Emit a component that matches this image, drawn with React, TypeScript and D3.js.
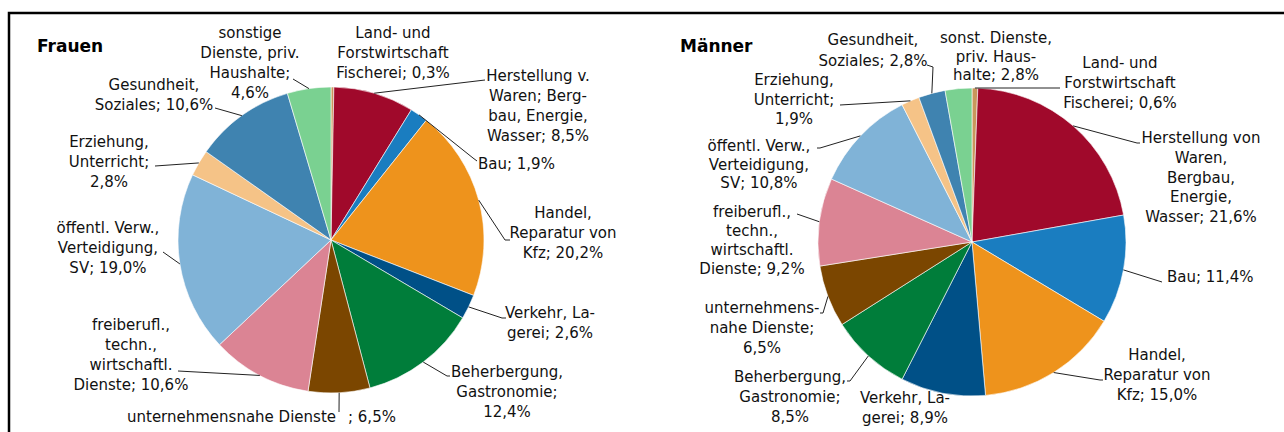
import React, { useEffect, useRef } from 'react'
import * as d3 from 'd3'

// Wirtschaftsbereiche (Reihenfolge im Uhrzeigersinn ab 12 Uhr)
const categories = [
  'Land- und Forstwirtschaft, Fischerei',
  'Herstellung von Waren, Bergbau, Energie, Wasser',
  'Bau',
  'Handel, Reparatur von Kfz',
  'Verkehr, Lagerei',
  'Beherbergung, Gastronomie',
  'unternehmensnahe Dienste',
  'freiberufl., techn., wirtschaftl. Dienste',
  'öffentl. Verw., Verteidigung, SV',
  'Erziehung, Unterricht',
  'Gesundheit, Soziales',
  'sonstige Dienste, priv. Haushalte',
]

const colors = [
  '#C9975C', '#A0092B', '#1A7DC0', '#EE931C', '#005087', '#007D3A',
  '#7B4600', '#DB8494', '#80B3D7', '#F5C387', '#3F83B0', '#7AD191',
]

const frauenValues = [0.3, 8.5, 1.9, 20.2, 2.6, 12.4, 6.5, 10.6, 19.0, 2.8, 10.6, 4.6]
const maennerValues = [0.6, 21.6, 11.4, 15.0, 8.9, 8.5, 6.5, 9.2, 10.8, 1.9, 2.8, 2.8]

// label texts, {v} = value
const frauenText = [
  ['Land- und', 'Forstwirtschaft', 'Fischerei; {v}'],
  ['Herstellung v.', 'Waren; Berg-', 'bau, Energie,', 'Wasser; {v}'],
  ['Bau; {v}'],
  ['Handel,', 'Reparatur von', 'Kfz; {v}'],
  ['Verkehr, La-', 'gerei; {v}'],
  ['Beherbergung,', 'Gastronomie;', '{v}'],
  ['unternehmensnahe Dienste', '; {v}'],
  ['freiberufl.,', 'techn.,', 'wirtschaftl.', 'Dienste; {v}'],
  ['öffentl. Verw.,', 'Verteidigung,', 'SV; {v}'],
  ['Erziehung,', 'Unterricht;', '{v}'],
  ['Gesundheit,', 'Soziales; {v}'],
  ['sonstige', 'Dienste, priv.', 'Haushalte;', '{v}'],
]
const maennerText = [
  ['Land- und', 'Forstwirtschaft', 'Fischerei; {v}'],
  ['Herstellung von', 'Waren,', 'Bergbau,', 'Energie,', 'Wasser; {v}'],
  ['Bau; {v}'],
  ['Handel,', 'Reparatur von', 'Kfz; {v}'],
  ['Verkehr, La-', 'gerei; {v}'],
  ['Beherbergung,', 'Gastronomie;', '{v}'],
  ['unternehmens-', 'nahe Dienste;', '{v}'],
  ['freiberufl.,', 'techn.,', 'wirtschaftl.', 'Dienste; {v}'],
  ['öffentl. Verw.,', 'Verteidigung,', 'SV; {v}'],
  ['Erziehung,', 'Unterricht;', '{v}'],
  ['Gesundheit,', 'Soziales; {v}'],
  ['sonst. Dienste,', 'priv. Haus-', 'halte; {v}'],
]

type Lay = { x: number; y: number; anchor?: string; lh?: number; leader?: number[][]; inline?: number[] }

// label layout (text centre x, first line centre y, leader points after the slice edge)
const frauenLayout: Lay[] = [
  { x: 393, y: 33 },
  { x: 538, y: 76, leader: [[485, 80]] },
  { x: 478, y: 164, anchor: 'start', leader: [[473, 158], [477, 161]] },
  { x: 563, y: 213, leader: [[505, 240], [510, 240]] },
  { x: 550, y: 313, leader: [[502, 318], [506, 318]] },
  { x: 507, y: 372, leader: [[447, 376], [450, 376]] },
  { x: 0, y: 417, inline: [336, 348], leader: [[339, 412]] },
  { x: 131, y: 325, leader: [[178, 371]] },
  { x: 108, y: 228, lh: 20, leader: [[163, 252]] },
  { x: 109, y: 142, leader: [[155, 166]] },
  { x: 154, y: 85, leader: [[215, 108]] },
  { x: 250, y: 33, leader: [[293, 79]] },
]
const maennerLayout: Lay[] = [
  { x: 1120, y: 63, leader: [[1060, 88]] },
  { x: 1201, y: 138, lh: 19.7, leader: [[1137, 143], [1140, 143]] },
  { x: 1167, y: 277, anchor: 'start', leader: [[1162, 282]] },
  { x: 1157, y: 355, leader: [[1100, 380], [1103, 380]] },
  { x: 905, y: 398 },
  { x: 790, y: 377, lh: 20, leader: [[850, 381], [847, 381]] },
  { x: 762, y: 308, leader: [[823, 313], [820, 313]] },
  { x: 752, y: 212, lh: 19, leader: [[797, 214]] },
  { x: 759, y: 146, lh: 18.5, leader: [[820, 148], [817, 148]] },
  { x: 794, y: 80, lh: 19.5, leader: [[840, 105]] },
  { x: 873, y: 40, lh: 21, leader: [[933, 67], [927, 65]] },
  { x: 996, y: 38, lh: 18.5 },
]

const fmt = (v: number) => v.toFixed(1).replace('.', ',') + '%'
const FONT = "'DejaVu Sans', 'Open Sans', sans-serif"

const App = () => {
  const ref = useRef<SVGSVGElement>(null)

  useEffect(() => {
    const svg = d3.select(ref.current)
    svg.selectAll('*').remove()

    svg.append('rect')
      .attr('x', 9).attr('y', 13).attr('width', 1300).attr('height', 440)
      .attr('fill', 'white').attr('stroke', 'black').attr('stroke-width', 2.5)

    const drawPie = (title: string, tx: number, cx: number, cy: number, r: number,
      values: number[], texts: string[][], layout: Lay[]) => {
      const g = svg.append('g')
      g.append('text').attr('x', tx).attr('y', 46).attr('dy', '0.35em')
        .attr('font-family', FONT).attr('font-weight', 'bold').attr('font-size', 17)
        .text(title)

      const pie = d3.pie<number>().sort(null).value(d => d)
      const arcs = pie(values)
      const arc = d3.arc<d3.PieArcDatum<number>>().innerRadius(0).outerRadius(r)

      g.append('g').attr('transform', `translate(${cx},${cy})`)
        .selectAll('path').data(arcs).enter().append('path')
        .attr('d', arc)
        .attr('fill', (d, i) => colors[i])
        .attr('stroke', 'white').attr('stroke-width', 0.6)

      arcs.forEach((a, i) => {
        const lay = layout[i]
        const mid = (a.startAngle + a.endAngle) / 2
        const ex = cx + r * Math.sin(mid)
        const ey = cy - r * Math.cos(mid)
        if (lay.leader) {
          const pts = [[ex, ey], ...lay.leader] as [number, number][]
          g.append('path').attr('d', d3.line()(pts))
            .attr('fill', 'none').attr('stroke', '#222').attr('stroke-width', 1)
        }
        const lines = texts[i].map(s => s.replace('{v}', fmt(values[i])))
        const lh = lay.lh ?? 20
        const t = g.append('g').attr('font-family', FONT).attr('font-size', 15).attr('fill', '#111')
        if (lay.inline) {
          t.append('text').attr('x', lay.inline[0]).attr('y', lay.y).attr('dy', '0.35em')
            .attr('text-anchor', 'end').text(lines[0])
          t.append('text').attr('x', lay.inline[1]).attr('y', lay.y).attr('dy', '0.35em')
            .attr('text-anchor', 'start').text(lines[1])
        } else {
          lines.forEach((s, j) => {
            t.append('text').attr('x', lay.x).attr('y', lay.y + j * lh).attr('dy', '0.35em')
              .attr('text-anchor', lay.anchor ?? 'middle').text(s)
          })
        }
      })
    }

    drawPie('Frauen', 37, 331, 240, 153, frauenValues, frauenText, frauenLayout)
    drawPie('Männer', 680, 972, 242, 154, maennerValues, maennerText, maennerLayout)
  }, [])

  return (
    <svg ref={ref} width={1284} height={432}
      style={{ position: 'absolute', left: 0, top: 0, background: 'white' }}
      aria-label={categories.join('; ')} />
  )
}

export default App
